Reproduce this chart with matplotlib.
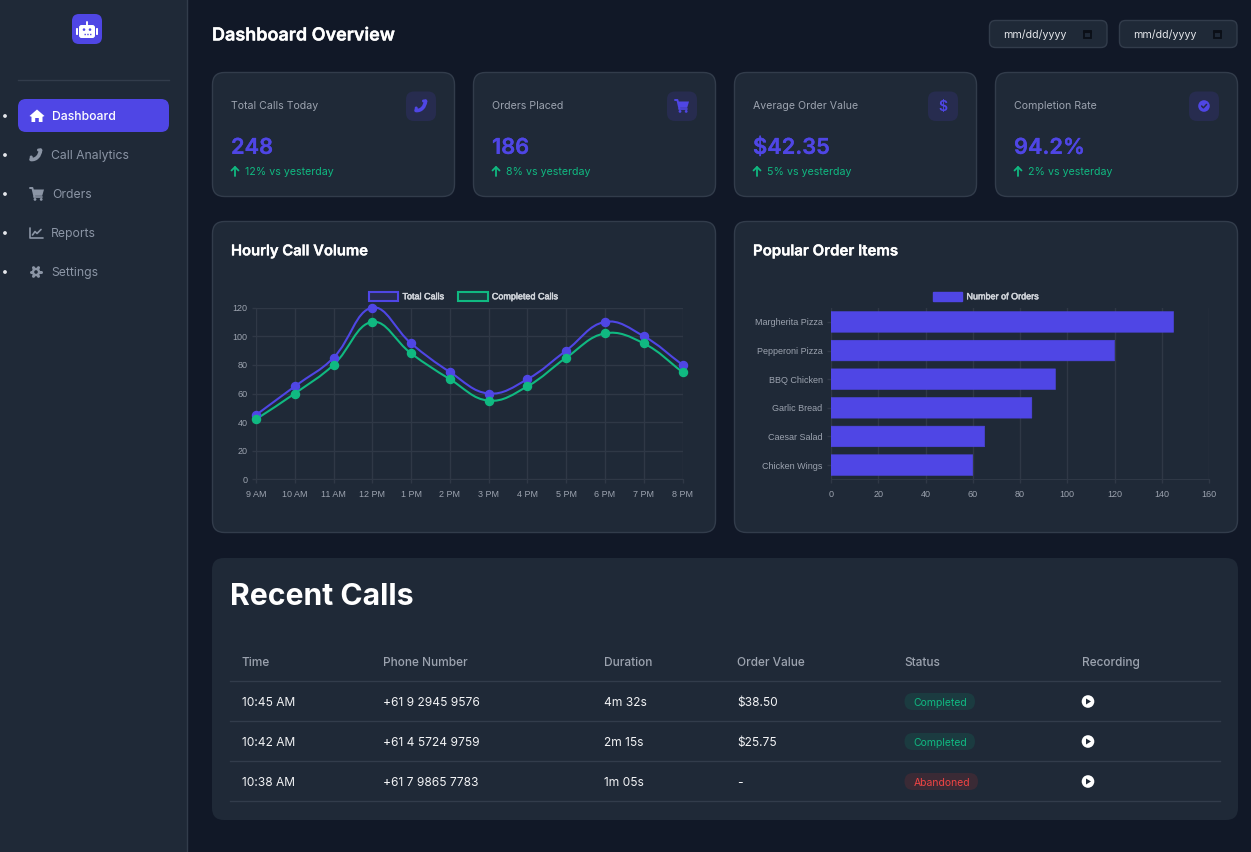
import numpy as np
import matplotlib
matplotlib.use('Agg')
import matplotlib.pyplot as plt
import matplotlib.patheffects as pe
from matplotlib.patches import FancyBboxPatch, Circle, Polygon, Patch, PathPatch
from matplotlib.path import Path

plt.rcParams['font.family'] = ['Inter', 'DejaVu Sans']

# colours
BG = '#111827'
CARD = '#1f2937'
BORDER = '#323c4b'
PRIMARY = '#4f46e5'
GREEN = '#10b981'
RED = '#ef4444'
GREY = '#9ca3af'
GRID = '#2f3846'

# chart data
hours = ['9 AM', '10 AM', '11 AM', '12 PM', '1 PM', '2 PM', '3 PM', '4 PM', '5 PM', '6 PM', '7 PM', '8 PM']
total_calls = [45, 65, 85, 120, 95, 75, 60, 70, 90, 110, 100, 80]
completed_calls = [42, 60, 80, 110, 88, 70, 55, 65, 85, 102, 95, 75]

items = ['Margherita Pizza', 'Pepperoni Pizza', 'BBQ Chicken', 'Garlic Bread', 'Caesar Salad', 'Chicken Wings']
item_orders = [145, 120, 95, 85, 65, 60]

# stat cards
stat_labels = ['Total Calls Today', 'Orders Placed', 'Average Order Value', 'Completion Rate']
stat_values = ['248', '186', '$42.35', '94.2%']
stat_changes = ['12% vs yesterday', '8% vs yesterday', '5% vs yesterday', '2% vs yesterday']

# sidebar
nav_labels = ['Dashboard', 'Call Analytics', 'Orders', 'Reports', 'Settings']

# table
table_headers = ['Time', 'Phone Number', 'Duration', 'Order Value', 'Status', 'Recording']
call_times = ['10:45 AM', '10:42 AM', '10:38 AM']
call_phones = ['+61 9 2945 9576', '+61 4 5724 9759', '+61 7 9865 7783']
call_durations = ['4m 32s', '2m 15s', '1m 05s']
call_values = ['$38.50', '$25.75', '-']
call_status = ['Completed', 'Completed', 'Abandoned']

fig = plt.figure(figsize=(12.51, 8.52), dpi=100, facecolor=BG)

# page layer in pixel coordinates, y going down
page = fig.add_axes([0, 0, 1, 1])
page.set_xlim(0, 1251)
page.set_ylim(852, 0)
page.axis('off')


def box(x0, y0, x1, y1, r, fc, ec='none', lw=1, z=1):
    page.add_patch(FancyBboxPatch((x0, y0), x1 - x0, y1 - y0, boxstyle='round,pad=0,rounding_size=%s' % r,
                                  fc=fc, ec=ec, lw=lw, zorder=z))


def label(x, y, s, size, color, weight='normal', ha='left', fat=0):
    # size given in css px, y is the middle of the capitals
    t = page.text(x, y + 0.36 * size, s, fontsize=size * 0.72, color=color, fontweight=weight, ha=ha, va='baseline', zorder=5)
    if fat:
        t.set_path_effects([pe.withStroke(linewidth=fat, foreground=color)])
    return t


def stroke(xs, ys, color, lw=1.5, z=4):
    page.plot(xs, ys, color=color, lw=lw, solid_capstyle='round', solid_joinstyle='round', zorder=z)


def phone_icon(cx, cy, color):
    verts = [(cx + 4.5, cy - 5), (cx + 4, cy + 1), (cx, cy + 5), (cx - 5, cy + 4.5)]
    page.add_patch(PathPatch(Path(verts, [Path.MOVETO, Path.CURVE4, Path.CURVE4, Path.CURVE4]),
                             fc='none', ec=color, lw=2.6, capstyle='round', zorder=4))
    stroke([cx + 2.5, cx + 4.8], [cy - 5, cy - 4.5], color, 2.2)
    stroke([cx - 4.8, cx - 4.5], [cy + 2, cy + 4.5], color, 2.2)


def cart_icon(cx, cy, color):
    stroke([cx - 7, cx - 4.6, cx - 2.6], [cy - 6, cy - 6, cy + 2.5], color, 1.4)
    page.add_patch(Polygon([(cx - 4.4, cy - 4.5), (cx + 7, cy - 4.5), (cx + 5.2, cy + 1.8), (cx - 2.8, cy + 1.8)],
                           fc=color, ec='none', zorder=4))
    stroke([cx - 3, cx + 5], [cy + 3.3, cy + 3.3], color, 1.2)
    page.add_patch(Circle((cx - 2, cy + 5.4), 1.4, fc=color, zorder=4))
    page.add_patch(Circle((cx + 4.2, cy + 5.4), 1.4, fc=color, zorder=4))


def home_icon(cx, cy, color):
    page.add_patch(Polygon([(cx - 7.5, cy), (cx, cy - 6.5), (cx + 7.5, cy), (cx + 5.5, cy + 0.8), (cx + 5.5, cy + 6),
                            (cx + 1.8, cy + 6), (cx + 1.8, cy + 2), (cx - 1.8, cy + 2), (cx - 1.8, cy + 6),
                            (cx - 5.5, cy + 6), (cx - 5.5, cy + 0.8)], fc=color, ec='none', zorder=4))


def chart_icon(cx, cy, color):
    stroke([cx - 6, cx - 6, cx + 6.5], [cy - 5.5, cy + 5, cy + 5], color, 1.2)
    stroke([cx - 3.5, cx - 1, cx + 1, cx + 5], [cy + 2, cy - 1.5, cy + 0.5, cy - 3.5], color, 1.2)


def gear_icon(cx, cy, color):
    for a in np.deg2rad([0, 60, 120]):
        stroke([cx - 5 * np.cos(a), cx + 5 * np.cos(a)], [cy - 5 * np.sin(a), cy + 5 * np.sin(a)], color, 2.2)
    page.add_patch(Circle((cx, cy), 4.2, fc=color, zorder=4))
    page.add_patch(Circle((cx, cy), 1.8, fc=CARD, zorder=5))


def check_icon(cx, cy):
    page.add_patch(Circle((cx, cy), 5.8, fc=PRIMARY, zorder=4))
    stroke([cx - 2.4, cx - 0.6, cx + 2.6], [cy, cy + 1.8, cy - 1.6], '#252a4c', 1.1, z=5)


def robot_logo(cx, cy):
    box(cx - 15, cy - 15, cx + 15, cy + 15, 7, PRIMARY)
    box(cx - 8, cy - 4, cx + 8, cy + 9, 2.5, 'white', z=3)
    stroke([cx, cx], [cy - 7.5, cy - 4], 'white', 1.4)
    box(cx - 11, cy - 1, cx - 9, cy + 6, 0.8, 'white', z=3)
    box(cx + 9, cy - 1, cx + 11, cy + 6, 0.8, 'white', z=3)
    page.add_patch(Circle((cx - 3, cy + 0.6), 1.3, fc=PRIMARY, zorder=4))
    page.add_patch(Circle((cx + 3, cy + 0.6), 1.3, fc=PRIMARY, zorder=4))
    page.plot([cx - 3.5, cx + 3.5], [cy + 5, cy + 5], color=PRIMARY, lw=1, ls=(0, (1, 1)), zorder=4)


# sidebar
page.add_patch(plt.Rectangle((0, 0), 187, 852, fc=CARD, ec='none', zorder=0.5))
page.plot([187, 187], [0, 852], color=BORDER, lw=1, zorder=1)
robot_logo(87, 29)
page.plot([18, 169], [80, 80], color=BORDER, lw=1, zorder=1)
box(18, 99, 169, 132, 8, PRIMARY)
nav_y = [116, 155, 194, 233, 272]
nav_x = [52, 51, 52, 51, 51]
nav_icons = [home_icon, phone_icon, cart_icon, chart_icon, gear_icon]
for i, name in enumerate(nav_labels):
    col = 'white' if i == 0 else '#8b95a5'
    page.add_patch(Circle((5, nav_y[i]), 1.9, fc='#e5e7eb', zorder=4))
    label(nav_x[i], nav_y[i], name, 12.2, col, 'medium' if i == 0 else 'normal')
    nav_icons[i](37 if i in (0, 2) else 36, nav_y[i], col)

# header
label(212, 34, 'Dashboard Overview', 18, 'white', 'semibold', fat=0.25)
for x0 in [989.5, 1119.5]:
    box(x0, 20.5, x0 + 117.5, 47.5, 6, CARD, BORDER)
    label(x0 + 14, 34, 'mm/dd/yyyy', 10.6, '#e5e7eb')
    page.add_patch(plt.Rectangle((x0 + 94.5, 30.5), 7, 7, fc='none', ec='#0b0f17', lw=1.3, zorder=4))
    stroke([x0 + 94.5, x0 + 101.5], [31.5, 31.5], '#0b0f17', 1.5)

# stat cards
stat_x = [212.5, 473.5, 734.5, 995.5]
for i, x0 in enumerate(stat_x):
    box(x0, 72.5, x0 + 242, 196.5, 12, CARD, BORDER)
    label(x0 + 18.5, 105, stat_labels[i], 10.6, GREY)
    box(x0 + 193.5, 91.5, x0 + 223.5, 121, 8, '#272c4f')
    cx = x0 + 208.5
    if i == 0:
        phone_icon(cx, 106, PRIMARY)
    elif i == 1:
        cart_icon(cx, 106, PRIMARY)
    elif i == 2:
        label(cx, 106, '$', 14, PRIMARY, 'semibold', ha='center')
    else:
        check_icon(cx, 106)
    label(x0 + 18.5, 146, stat_values[i], 21.8, PRIMARY, 'semibold', fat=0.2)
    stroke([x0 + 22.5, x0 + 22.5], [176, 167], GREEN, 1.3)
    stroke([x0 + 19, x0 + 22.5, x0 + 26], [170.5, 167, 170.5], GREEN, 1.3)
    label(x0 + 32.5, 171.5, stat_changes[i], 10.6, GREEN)

# chart cards
for x0 in [212.5, 734.5]:
    box(x0, 221.5, x0 + 503, 532.5, 12, CARD, BORDER)
label(231, 250, 'Hourly Call Volume', 14.8, 'white', 'semibold', fat=0.25)
label(753, 250, 'Popular Order Items', 15, 'white', 'semibold', fat=0.25)


def chart_axes(x0, y0, x1, y1):
    a = fig.add_axes([x0 / 1251, 1 - y1 / 852, (x1 - x0) / 1251, (y1 - y0) / 852], facecolor='none')
    for side in ['top', 'right']:
        a.spines[side].set_visible(False)
    for side in ['left', 'bottom']:
        a.spines[side].set_color(GRID)
    a.grid(True, color=GRID, lw=1)
    a.set_axisbelow(True)
    a.tick_params(length=3, width=1, color=GRID, labelcolor=GREY, labelsize=6.5)
    a.tick_params(axis='x', pad=4.6)
    a.tick_params(axis='y', pad=3)
    return a


def smooth_path(ys, sx, sy):
    # same bezier construction chart.js uses for tension 0.4, distances in screen units
    pts = np.column_stack([np.arange(len(ys)), ys]).astype(float)
    scale = np.array([sx, sy])
    verts = [tuple(pts[0])]
    codes = [Path.MOVETO]
    cps = []
    for i in range(len(pts)):
        prev = pts[max(i - 1, 0)]
        nxt = pts[min(i + 1, len(pts) - 1)]
        d01 = np.linalg.norm((pts[i] - prev) * scale)
        d12 = np.linalg.norm((nxt - pts[i]) * scale)
        tot = d01 + d12
        cps.append((pts[i] - 0.4 * d01 / tot * (nxt - prev), pts[i] + 0.4 * d12 / tot * (nxt - prev)))
    for i in range(1, len(pts)):
        verts += [tuple(cps[i - 1][1]), tuple(cps[i][0]), tuple(pts[i])]
        codes += [Path.CURVE4] * 3
    return Path(verts, codes)


def style_legend(leg):
    for t in leg.get_texts():
        t.set_color('#d1d5db')
        t.set_path_effects([pe.withStroke(linewidth=0.35, foreground='#d1d5db')])


legend_font = {'family': 'Liberation Sans', 'size': 6.5}

# line chart
ax1 = chart_axes(256, 307.6, 682.5, 479.4)
for ys, col in [(total_calls, PRIMARY), (completed_calls, GREEN)]:
    ax1.add_patch(PathPatch(smooth_path(ys, 426.5 / 11, 171.5 / 120), fc='none', ec=col, lw=1.5, zorder=3, clip_on=False))
    ax1.plot(range(len(hours)), ys, ls='none', marker='o', ms=5.8, color=col, mec=col, clip_on=False, zorder=4)
ax1.set_xlim(0, len(hours) - 1)
ax1.set_ylim(0, 120)
ax1.set_xticks(range(len(hours)))
ax1.set_xticklabels(hours, fontfamily='Liberation Sans')
ax1.set_yticks(range(0, 121, 20))
for t in ax1.get_yticklabels():
    t.set_fontfamily('Liberation Sans')
leg1 = ax1.legend(handles=[Patch(fc='#272c4f', ec=PRIMARY, lw=1.5, label='Total Calls'),
                           Patch(fc='#1b3b40', ec=GREEN, lw=1.5, label='Completed Calls')],
                  loc='lower center', bbox_to_anchor=(0.486, 1.0), ncol=2, frameon=False, prop=legend_font,
                  handlelength=3.3, handleheight=1.1, handletextpad=0.45, columnspacing=1.55, borderpad=0, borderaxespad=0.7)
style_legend(leg1)

# bar chart
ax2 = chart_axes(831, 307.6, 1209, 479.4)
bars = ax2.barh(range(len(items)), item_orders, height=0.72, color=PRIMARY, edgecolor=PRIMARY, lw=0.4, joinstyle='round', zorder=3)
for b in bars:
    b.set_snap(False)
ax2.set_xlim(0, 160)
ax2.set_ylim(len(items) - 0.5, -0.5)
ax2.set_xticks(range(0, 161, 20))
ax2.set_yticks(range(len(items)))
ax2.set_yticklabels(items, fontfamily='Liberation Sans')
ax2.grid(False, axis='y')
for t in ax2.get_xticklabels():
    t.set_fontfamily('Liberation Sans')
leg2 = ax2.legend(handles=[Patch(fc=PRIMARY, ec=PRIMARY, label='Number of Orders')], loc='lower center',
                  bbox_to_anchor=(0.409, 1.0), frameon=False, prop=legend_font, handlelength=3.3, handleheight=1.1,
                  handletextpad=0.45, borderpad=0, borderaxespad=0.7)
style_legend(leg2)

# recent calls table
box(212, 558, 1238, 820, 12, CARD)
label(230, 594, 'Recent Calls', 30.2, 'white', 'bold')
col_x = [241.5, 383, 604, 737, 904.5, 1082]
for x, h in zip(col_x, table_headers):
    label(x, 661.5, h, 11.9, GREY, 'medium')
row_y = [701.5, 741.5, 781.5]
for y in [681, 721, 761, 801]:
    page.plot([230, 1219.5], [y, y], color=BORDER, lw=1, zorder=2)
for i, y in enumerate(row_y):
    label(col_x[0], y, call_times[i], 12, '#f3f4f6')
    label(col_x[1], y, call_phones[i], 12, '#f3f4f6')
    label(col_x[2], y, call_durations[i], 12, '#f3f4f6')
    label(col_x[3], y, call_values[i], 12, '#f3f4f6')
    done = call_status[i] == 'Completed'
    box(904.5, y - 8.5, 975 if done else 978, y + 8.5, 8.5, '#1b3b40' if done else '#3a2a35')
    label(913.5, y + 0.5, call_status[i], 10.4, GREEN if done else RED)
    page.add_patch(Circle((1088, y), 6.3, fc='white', zorder=4))
    page.add_patch(Polygon([(1086, y - 3), (1086, y + 3), (1091, y)], fc='#1f2937', ec='none', zorder=5))

fig.savefig('out.png', dpi=100, facecolor=BG)
